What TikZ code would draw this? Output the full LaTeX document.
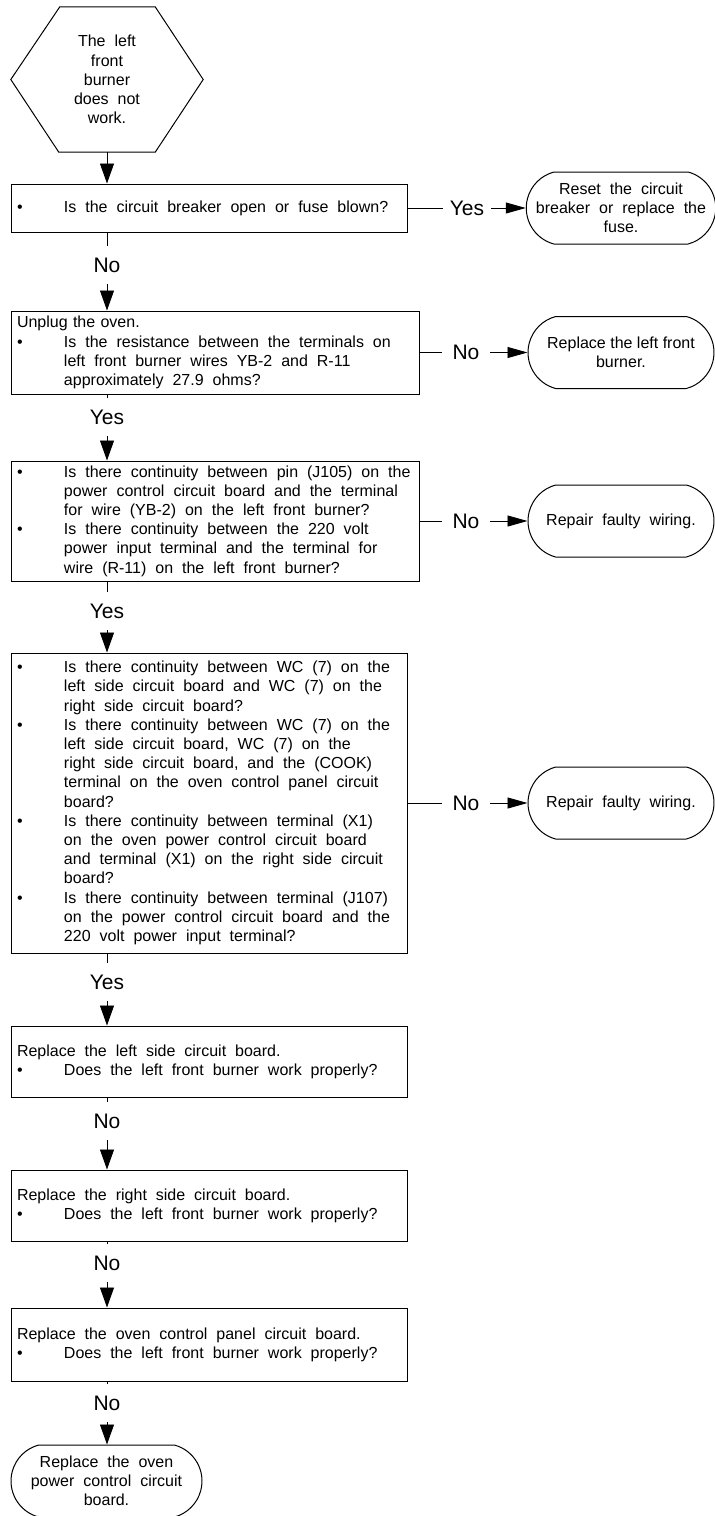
\documentclass[tikz,border=0pt]{standalone}
\usepackage{fontspec}
\setmainfont{Liberation Sans}
\usetikzlibrary{arrows.meta,positioning,shapes.misc}
\newcommand{\bfnt}{\fontsize{16}{19.2}\selectfont\spaceskip=.56em\relax}
\newcommand{\nfnt}{\fontsize{16}{19.2}\selectfont}
\newcommand{\lfnt}{\fontsize{21}{25}\selectfont}
\newcommand{\wsp}{\spaceskip=.56em\relax}
\newcommand{\wl}[1]{\mbox{\wsp #1}}
\newcommand{\bl}[1]{\mbox{\wsp\makebox[47pt][l]{\textbullet}#1}}
\newcommand{\ind}[1]{\mbox{\wsp\hspace*{47pt}#1}}

\begin{document}
\begin{tikzpicture}[x=1pt,y=-1pt,>={Triangle[length=20pt,width=14pt]},
  qbox/.style={draw,line width=1pt,align=left,inner xsep=6pt,inner ysep=0pt,font=\bfnt},
  term/.style={draw,line width=1pt,rounded rectangle,rounded rectangle arc length=150,
    minimum width=186pt,minimum height=72pt,align=center,inner sep=0pt,font=\bfnt},
  lbl/.style={minimum width=48pt,minimum height=38pt,inner sep=0pt,font=\lfnt},
  link/.style={line width=.9pt},
  side/.style={link,-{Triangle[length=20pt,width=11pt]}}]
  \useasboundingbox (0,0) rectangle (715,1516);
  % start symptom
  \node[minimum width=192pt,minimum height=145pt,align=center,font=\bfnt] (s) at (107,79.5)
    {\wl{The left}\\front\\burner\\\wl{does not}\\work.};
  \draw[line width=1pt] (s.west) -- ([xshift=49pt]s.north west) -- ([xshift=-48pt]s.north east)
    -- (s.east) -- ([xshift=-48pt]s.south east) -- ([xshift=48pt]s.south west) -- cycle;

  % checks
  \node[qbox,text width=384pt,minimum height=48pt] (q1) at (209,208)
    {\bl{Is the circuit breaker open or fuse blown?}};
  \node[qbox,text width=396pt,minimum height=83pt] (q2) at (215,352.5)
    {\mbox{Unplug the oven.}\\
     \bl{Is the resistance between the terminals on}\\
     \ind{left front burner wires YB-2 and R-11}\\
     \ind{approximately 27.9 ohms?}};
  \node[qbox,text width=396pt,minimum height=120pt] (q3) at (215,521)
    {\bl{Is there continuity between pin (J105) on the}\\
     \ind{power control circuit board and the terminal}\\
     \ind{for wire (YB-2) on the left front burner?}\\
     \bl{Is there continuity between the 220 volt}\\
     \ind{power input terminal and the terminal for}\\
     \ind{wire (R-11) on the left front burner?}};
  \node[qbox,text width=384pt,minimum height=300pt] (q4) at (209,803)
    {\bl{Is there continuity between WC (7) on the}\\
     \ind{left side circuit board and WC (7) on the}\\
     \ind{right side circuit board?}\\
     \bl{Is there continuity between WC (7) on the}\\
     \ind{left side circuit board,  WC (7) on the}\\
     \ind{right side circuit board, and the (COOK)}\\
     \ind{terminal on the oven control panel circuit}\\
     \ind{board?}\\
     \bl{Is there continuity between terminal (X1)}\\
     \ind{on the oven power control circuit board}\\
     \ind{and  terminal (X1) on the right side circuit}\\
     \ind{board?}\\
     \bl{Is there continuity between terminal (J107)}\\
     \ind{on the power control circuit board and  the}\\
     \ind{220 volt power input terminal?}};
  \node[qbox,text width=384pt,minimum height=71pt] (q5) at (209,1061.5)
    {\wl{Replace the left side circuit board.}\\
     \bl{Does the left front burner work properly?}};
  \node[qbox,text width=384pt,minimum height=71pt] (q6) at (209,1205.5)
    {\wl{Replace the right side circuit board.}\\
     \bl{Does the left front burner work properly?}};
  \node[qbox,text width=384pt,minimum height=73pt] (q7) at (209,1344.5)
    {\wl{Replace the oven control panel circuit board.}\\
     \bl{Does the left front burner work properly?}};

  % actions
  \node[term] (t1) at (621,208) {\wl{Reset the circuit}\\\wl{breaker or replace the}\\fuse.};
  \node[term,font=\nfnt] (t2) at (621,352.5) {Replace the left front\\burner.};
  \node[term] (t3) at (621,521) {\wl{Repair faulty wiring.}};
  \node[term] (t4) at (621,803) {\wl{Repair faulty wiring.}};
  \node[term,minimum width=191pt] (t5) at (106.5,1481)
    {\wl{Replace the oven}\\\wl{power control circuit}\\board.};

  % answers
  \node[lbl] (y1) at (467,208) {Yes};
  \node[lbl] (n2) at (466,352.5) {No};
  \node[lbl] (n3) at (466,521) {No};
  \node[lbl] (n4) at (466,803) {No};
  \node[lbl] (n1) at (107,265) {No};
  \node[lbl] (y2) at (107,417) {Yes};
  \node[lbl] (y3) at (107,611) {Yes};
  \node[lbl] (y4) at (107,982) {Yes};
  \node[lbl] (n5) at (107,1121) {No};
  \node[lbl] (n6) at (107,1263) {No};
  \node[lbl] (n7) at (107,1403) {No};

  \draw[link,->] (s.south) -- (s.south |- q1.north);
  \draw[link] (q1.south -| s.south) -- (n1);
  \draw[link,->] (n1) -- (n1 |- q2.north);
  \draw[link] (q2.south -| s.south) -- (y2);
  \draw[link,->] (y2) -- (y2 |- q3.north);
  \draw[link] (q3.south -| s.south) -- (y3);
  \draw[link,->] (y3) -- (y3 |- q4.north);
  \draw[link] (q4.south -| s.south) -- (y4);
  \draw[link,->] (y4) -- (y4 |- q5.north);
  \draw[link] (q5.south -| s.south) -- (n5);
  \draw[link,->] (n5) -- (n5 |- q6.north);
  \draw[link] (q6.south -| s.south) -- (n6);
  \draw[link,->] (n6) -- (n6 |- q7.north);
  \draw[link] (q7.south -| s.south) -- (n7);
  \draw[link,->] (n7) -- (n7 |- t5.north);

  \draw[link] (q1) -- (y1);
  \draw[side] (y1) -- (t1);
  \draw[link] (q2) -- (n2);
  \draw[side] (n2) -- (t2);
  \draw[link] (q3) -- (n3);
  \draw[side] (n3) -- (t3);
  \draw[link] (q4) -- (n4);
  \draw[side] (n4) -- (t4);
\end{tikzpicture}
\end{document}
